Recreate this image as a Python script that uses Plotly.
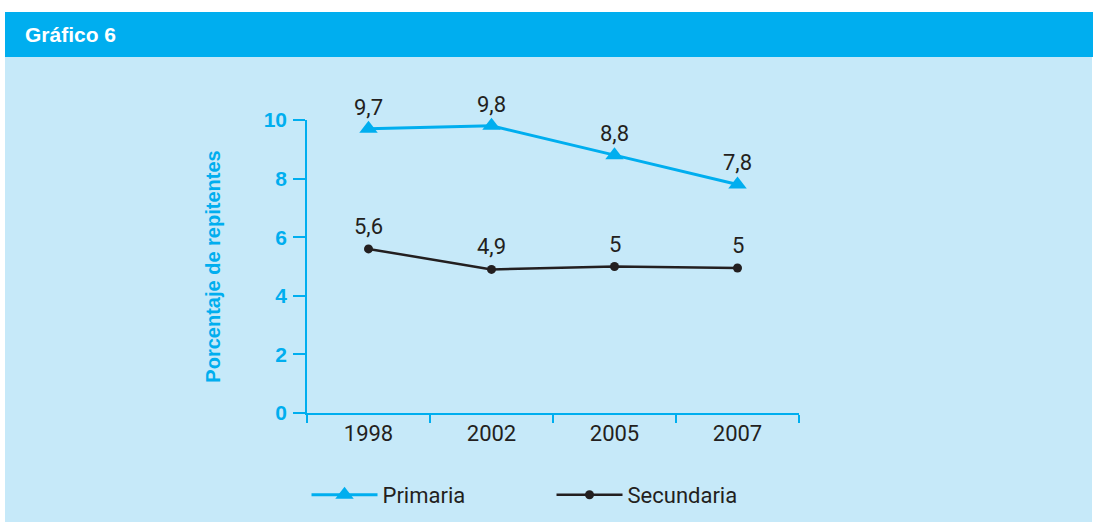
import plotly.graph_objects as go

years = ["1998", "2002", "2005", "2007"]
primaria = [9.7, 9.8, 8.8, 7.8]
secundaria = [5.6, 4.9, 5.0, 4.95]
primaria_labels = ["9,7", "9,8", "8,8", "7,8"]
secundaria_labels = ["5,6", "4,9", "5", "5"]
y_ticks = [0, 2, 4, 6, 8, 10]

CYAN = "#00AEEF"
LIGHT = "#C6E9F9"
DARK = "#231F20"
W, H = 1093, 522
ML, MR, MT, MB = 307, 294, 120, 109
PW, PH = W - ML - MR, H - MT - MB

def px(x):  # window pixel -> paper fraction
    return (x - ML) / PW

def py(y):
    return (H - MB - y) / PH

fig = go.Figure()
fig.add_trace(go.Scatter(
    x=years, y=primaria, mode="lines+markers", name="Primaria",
    line=dict(color=CYAN, width=3),
    marker=dict(symbol="triangle-up", size=16, color=CYAN),
    cliponaxis=False,
))
fig.add_trace(go.Scatter(
    x=years, y=secundaria, mode="lines+markers", name="Secundaria",
    line=dict(color=DARK, width=2.5),
    marker=dict(symbol="circle", size=9, color=DARK),
    cliponaxis=False,
))

label_font = dict(family="Roboto, Arial, sans-serif", size=22, color=DARK)
annotations = []
for i, (yv, t) in enumerate(zip(primaria, primaria_labels)):
    annotations.append(dict(x=i, y=yv, xref="x", yref="y", text=t, showarrow=False,
                            yanchor="bottom", yshift=7, font=label_font))
for i, (yv, t) in enumerate(zip(secundaria, secundaria_labels)):
    annotations.append(dict(x=i, y=yv, xref="x", yref="y", text=t, showarrow=False,
                            yanchor="bottom", yshift=8, font=label_font))
annotations.append(dict(x=px(23), y=py(34.5), xref="paper", yref="paper", text="<b>Gráfico 6</b>",
                        showarrow=False, xanchor="left", yanchor="middle",
                        font=dict(family="Liberation Sans, Arial, sans-serif", size=21, color="white")))

shapes = [
    dict(type="rect", xref="paper", yref="paper", x0=px(5), x1=px(1092), y0=py(57), y1=py(522),
         fillcolor=LIGHT, line=dict(width=0), layer="below"),
    dict(type="rect", xref="paper", yref="paper", x0=px(5), x1=px(1093), y0=py(12), y1=py(57),
         fillcolor=CYAN, line=dict(width=0), layer="below"),
]

fig.update_layout(
    width=W, height=H,
    margin=dict(l=ML, r=MR, t=MT, b=MB, autoexpand=False),
    paper_bgcolor="white", plot_bgcolor=LIGHT,
    showlegend=True,
    legend=dict(orientation="h", x=-0.001, y=py(495), xref="paper", yref="paper",
                xanchor="left", yanchor="middle", entrywidth=164, entrywidthmode="pixels",
                itemwidth=66, bgcolor="rgba(0,0,0,0)", font=label_font),
    annotations=annotations, shapes=shapes,
    xaxis=dict(type="category", range=[-0.5, 3.5], showline=True, linecolor=CYAN, linewidth=1.5,
               ticks="outside", ticklen=8, tickwidth=1.5, tickcolor=CYAN, tickson="boundaries",
               showgrid=False, zeroline=False,
               tickfont=dict(family="Roboto, Arial, sans-serif", size=22, color=DARK)),
    yaxis=dict(range=[0, 10], tickvals=y_ticks, showline=True, linecolor=CYAN, linewidth=1.5,
               ticks="outside", ticklen=12, tickwidth=1.5, tickcolor=CYAN, ticklabelstandoff=2,
               showgrid=False, zeroline=False,
               tickfont=dict(family="Liberation Sans, Arial, sans-serif", size=21, color=CYAN, weight="bold"),
               title=dict(text="<b>Porcentaje de repitentes</b>", standoff=38,
                          font=dict(family="Liberation Sans, Arial, sans-serif", size=20, color=CYAN))),
)

fig.write_html("out.html", config={"displayModeBar": False},
               post_script="document.body.style.margin='0';document.body.style.overflow='hidden';")
